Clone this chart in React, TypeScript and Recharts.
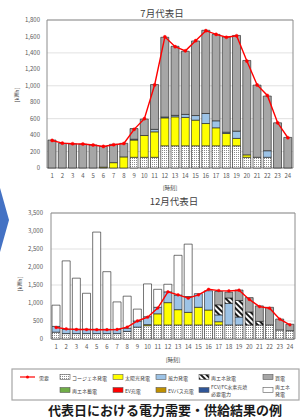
import React from 'react';
import { ComposedChart, Bar, Line, XAxis, YAxis, CartesianGrid, ReferenceArea } from 'recharts';

const HOURS = ['1','2','3','4','5','6','7','8','9','10','11','12','13','14','15','16','17','18','19','20','21','22','23','24'];
const JUL_TICKS = [0, 200, 400, 600, 800, 1000, 1200, 1400, 1600, 1800];
const DEC_TICKS = [0, 500, 1000, 1500, 2000, 2500, 3000, 3500];

// July representative day (kWh)
const julCogen = [0,0,0,0,0,0,0,0,130,130,130,270,270,270,270,270,270,270,270,130,130,130,0,0];
const julSolar = [0,0,0,0,0,10,65,135,210,265,310,340,352,345,312,271,219,150,90,30,0,0,0,0];
const julWind = [0,0,0,0,0,0,0,0,10,0,30,10,18,37,56,122,85,15,88,0,0,80,0,0];
const julBuy = [340,300,295,290,280,252,223,165,130,200,545,970,840,768,907,1012,1051,1160,1164,1148,878,665,550,372];
const julDemand = [335,302,295,292,280,262,283,298,470,600,1010,1595,1475,1425,1548,1670,1625,1590,1608,1300,1010,882,550,368];

// December representative day (kWh)
const decCogen = [190,150,150,150,150,150,150,210,330,370,390,390,390,390,390,390,390,390,390,390,390,390,250,230];
const decSolar = [0,0,0,0,0,0,0,0,0,30,310,620,425,350,490,415,90,0,0,0,0,0,0,0];
const decWind = [160,120,120,120,120,120,120,90,170,220,180,300,405,440,380,535,190,600,220,0,0,0,0,0];
const decDischarge = [0,0,0,0,0,0,0,0,0,0,0,0,0,0,0,0,280,150,460,360,100,0,0,0];
const decBuy = [0,0,0,0,0,0,0,0,0,0,0,0,0,0,0,0,370,160,290,400,430,490,305,180];
const decSurplus = [590,1900,1420,1000,2700,1600,760,890,330,910,500,210,1105,1455,0,0,0,0,0,0,0,0,0,0];
const decDemand = [320,280,265,262,258,258,265,330,500,605,860,1310,1225,1135,1225,1380,1345,1335,1355,1100,900,855,550,395];

const julRows = HOURS.map((h, i) => ({ hour: h, cogen: julCogen[i], solar: julSolar[i], wind: julWind[i], buy: julBuy[i], demand: julDemand[i] }));
const decRows = HOURS.map((h, i) => ({ hour: h, cogen: decCogen[i], solar: decSolar[i], wind: decWind[i], discharge: decDischarge[i], buy: decBuy[i], surplus: decSurplus[i], demand: decDemand[i] }));

const COLORS = {
  solar: '#FFFF00',
  wind: '#9DC3E6',
  buy: '#A6A6A6',
  store: '#70AD47',
  ev: '#FF0000',
  evbus: '#BF9000',
  fcv: '#2F5597',
  demand: '#FF0000',
};

const fmt = (v: number) => v.toLocaleString('en-US');
const FONT = '"Noto Sans CJK JP", "Noto Sans", sans-serif';
const tickStyle = { fontSize: 6, fill: '#595959', fontFamily: FONT };
const SEG = { stroke: '#1a1a1a', strokeWidth: 0.6 };

const legendRow1 = [
  { x: 60, label: 'コージェネ発電', fill: 'url(#dots)' },
  { x: 113, label: '太陽光発電', fill: COLORS.solar },
  { x: 156, label: '風力発電', fill: COLORS.wind },
  { x: 199, label: '再エネ放電', fill: 'url(#hatch)' },
  { x: 263, label: '買電', fill: COLORS.buy },
];
const legendRow2 = [
  { x: 60, label: ['再エネ蓄電'], fill: COLORS.store },
  { x: 113, label: ['EV充電'], fill: COLORS.ev },
  { x: 156, label: ['EVバス充電'], fill: COLORS.evbus },
  { x: 199, label: ['FCV/FC水素充填', '必要電力'], fill: COLORS.fcv },
  { x: 263, label: ['再エネ', '発電'], fill: '#FFFFFF' },
];

function Decor() {
  const ty = 377;
  const ty2 = 390;
  return (
    <svg width={304} height={419} style={{ position: 'absolute', left: 0, top: 0 }} fontFamily={FONT}>
      <defs>
        <pattern id="dots" width="2" height="2" patternUnits="userSpaceOnUse">
          <rect width="2" height="2" fill="#FFFFFF" />
          <rect width="1" height="1" fill="#8c8c8c" />
        </pattern>
        <pattern id="hatch" width="4" height="4" patternUnits="userSpaceOnUse" patternTransform="rotate(-45)">
          <rect width="4" height="4" fill="#FFFFFF" />
          <rect width="2" height="4" fill="#1a1a1a" />
        </pattern>
      </defs>
      <polygon points="0,188 9,220 0,252" fill="#4472C4" />
      <text x={162} y={13} textAnchor="middle" dominantBaseline="central" fontSize={9.5} fill="#404040">7月代表日</text>
      <text x={174} y={201} textAnchor="middle" dominantBaseline="central" fontSize={9.5} fill="#404040">12月代表日</text>
      <text x={17} y={95} transform="rotate(-90, 17, 95)" textAnchor="middle" dominantBaseline="central" fontSize={5.5} fill="#404040">[kWh]</text>
      <text x={20} y={284} transform="rotate(-90, 20, 284)" textAnchor="middle" dominantBaseline="central" fontSize={5.5} fill="#404040">[kWh]</text>
      <text x={170} y={188} textAnchor="middle" dominantBaseline="central" fontSize={5.5} fill="#404040">[時刻]</text>
      <text x={173} y={360} textAnchor="middle" dominantBaseline="central" fontSize={5.5} fill="#404040">[時刻]</text>

      <rect x={12} y={369} width={287} height={31} fill="#FFFFFF" stroke="#A6A6A6" strokeWidth={1.2} />
      <line x1={20} y1={ty} x2={35} y2={ty} stroke={COLORS.demand} strokeWidth={1.2} />
      <circle cx={27.5} cy={ty} r={1.5} fill={COLORS.demand} />
      <text x={39} y={ty} dominantBaseline="central" fontSize={5} fill="#404040">需要</text>
      {legendRow1.map((e) => (
        <g key={e.label}>
          <rect x={e.x} y={ty - 2.5} width={10} height={5} fill={e.fill} stroke="#595959" strokeWidth={0.6} />
          <text x={e.x + 12} y={ty} dominantBaseline="central" fontSize={5} fill="#404040">{e.label}</text>
        </g>
      ))}
      {legendRow2.map((e) => (
        <g key={e.label.join('')}>
          <rect x={e.x} y={ty2 - 2.5} width={10} height={5} fill={e.fill} stroke="#595959" strokeWidth={0.6} />
          {e.label.length === 1 ? (
            <text x={e.x + 12} y={ty2} dominantBaseline="central" fontSize={5} fill="#404040">{e.label[0]}</text>
          ) : (
            <>
              <text x={e.x + 12} y={ty2 - 3.5} dominantBaseline="central" fontSize={5} fill="#404040">{e.label[0]}</text>
              <text x={e.x + 12} y={ty2 + 3.5} dominantBaseline="central" fontSize={5} fill="#404040">{e.label[1]}</text>
            </>
          )}
        </g>
      ))}
      <text x={165} y={409} textAnchor="middle" dominantBaseline="central" fontSize={13} fontWeight="bold" fill="#1a1a1a">代表日における電力需要・供給結果の例</text>
    </svg>
  );
}

export default function App() {
  return (
    <div style={{ position: 'absolute', left: 0, top: 0, width: 304, height: 419, background: '#FFFFFF', overflow: 'hidden' }}>
      <Decor />
      <div style={{ position: 'absolute', left: 0, top: 0 }}>
        <ComposedChart width={304} height={195} data={julRows} margin={{ top: 20, right: 11, bottom: 0, left: 0 }} barCategoryGap="10%">
          <CartesianGrid vertical={false} stroke="#D9D9D9" strokeWidth={0.8} />
          <XAxis dataKey="hour" interval={0} tickLine={false} axisLine={false} tickSize={0} tickMargin={6} height={27} tick={tickStyle} />
          <YAxis width={47} domain={[0, 1800]} ticks={JUL_TICKS} tickFormatter={fmt} tickLine={false} axisLine={false} tickSize={0} tickMargin={7} tick={tickStyle} />
          <Bar dataKey="cogen" stackId="s" fill="url(#dots)" {...SEG} isAnimationActive={false} />
          <Bar dataKey="solar" stackId="s" fill={COLORS.solar} {...SEG} isAnimationActive={false} />
          <Bar dataKey="wind" stackId="s" fill={COLORS.wind} {...SEG} isAnimationActive={false} />
          <Bar dataKey="buy" stackId="s" fill={COLORS.buy} {...SEG} isAnimationActive={false} />
          <Line dataKey="demand" type="linear" stroke={COLORS.demand} strokeWidth={1.4} dot={{ r: 1.6, fill: COLORS.demand, stroke: COLORS.demand, strokeWidth: 0.4 }} isAnimationActive={false} />
          <ReferenceArea y1={0} y2={1800} fill="none" stroke="#8C8C8C" strokeWidth={1} ifOverflow="visible" />
        </ComposedChart>
      </div>
      <div style={{ position: 'absolute', left: 0, top: 193 }}>
        <ComposedChart width={304} height={175} data={decRows} margin={{ top: 20, right: 9, bottom: 0, left: 0 }} barCategoryGap="10%">
          <CartesianGrid vertical={false} stroke="#D9D9D9" strokeWidth={0.8} />
          <XAxis dataKey="hour" interval={0} tickLine={false} axisLine={false} tickSize={0} tickMargin={6} height={29} tick={tickStyle} />
          <YAxis width={51} domain={[0, 3500]} ticks={DEC_TICKS} tickFormatter={fmt} tickLine={false} axisLine={false} tickSize={0} tickMargin={8} tick={tickStyle} />
          <Bar dataKey="cogen" stackId="s" fill="url(#dots)" {...SEG} isAnimationActive={false} />
          <Bar dataKey="solar" stackId="s" fill={COLORS.solar} {...SEG} isAnimationActive={false} />
          <Bar dataKey="wind" stackId="s" fill={COLORS.wind} {...SEG} isAnimationActive={false} />
          <Bar dataKey="discharge" stackId="s" fill="url(#hatch)" {...SEG} isAnimationActive={false} />
          <Bar dataKey="buy" stackId="s" fill={COLORS.buy} {...SEG} isAnimationActive={false} />
          <Bar dataKey="surplus" stackId="s" fill="#FFFFFF" {...SEG} isAnimationActive={false} />
          <Line dataKey="demand" type="linear" stroke={COLORS.demand} strokeWidth={1.4} dot={{ r: 1.4, fill: COLORS.demand, stroke: COLORS.demand, strokeWidth: 0.4 }} isAnimationActive={false} />
          <ReferenceArea y1={0} y2={3500} fill="none" stroke="#8C8C8C" strokeWidth={1} ifOverflow="visible" />
        </ComposedChart>
      </div>
    </div>
  );
}
